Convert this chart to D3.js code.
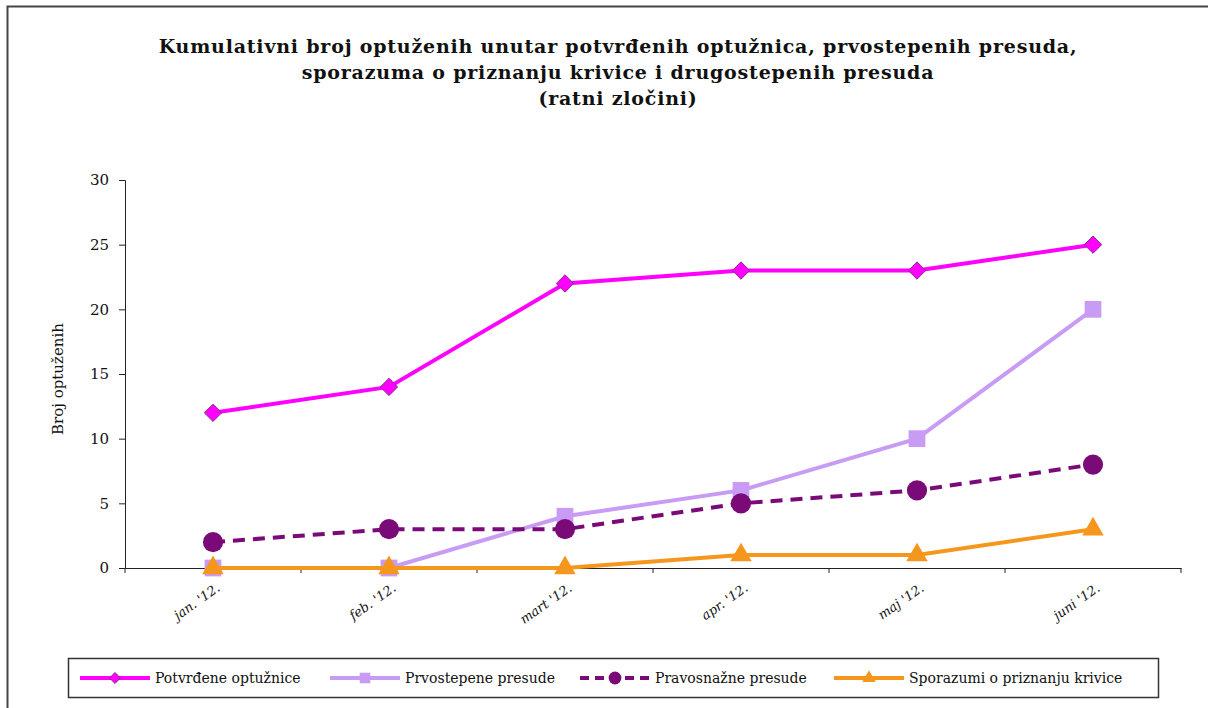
<!DOCTYPE html>
<html>
<head>
<meta charset="utf-8">
<script src="https://cdn.jsdelivr.net/npm/d3@7"></script>
<style>
  body { margin: 0; background: #fff; }
</style>
</head>
<body>
<svg id="chart" width="1208" height="708"></svg>
<script>
const months = ["jan. '12.", "feb. '12.", "mart '12.", "apr. '12.", "maj '12.", "juni '12."]
const potvrdene = [12, 14, 22, 23, 23, 25]
const prvostepene = [0, 0, 4, 6, 10, 20]
const pravosnazne = [2, 3, 3, 5, 6, 8]
const sporazumi = [0, 0, 0, 1, 1, 3]
const yTicks = [0, 5, 10, 15, 20, 25, 30]
const titleLines = [
  'Kumulativni broj optuženih unutar potvrđenih optužnica, prvostepenih presuda,',
  'sporazuma o priznanju krivice i drugostepenih presuda',
  '(ratni zločini)'
]

// rotated square, wider than d3's diamond
const diamond = {
  draw(ctx, size) {
    const r = Math.sqrt(size / 2)
    ctx.moveTo(0, -r); ctx.lineTo(r, 0); ctx.lineTo(0, r); ctx.lineTo(-r, 0); ctx.closePath()
  }
}

const series = [
  { name: 'Potvrđene optužnice', values: potvrdene, color: '#ff00ff', stroke: '#8a2a8a', shape: diamond, size: 150, dash: null },
  { name: 'Prvostepene presude', values: prvostepene, color: '#c89bf5', stroke: null, shape: d3.symbolSquare, size: 280, dash: null },
  { name: 'Pravosnažne presude', values: pravosnazne, color: '#7a0a78', stroke: null, shape: d3.symbolCircle, size: 320, dash: '12,8' },
  { name: 'Sporazumi o priznanju  krivice', values: sporazumi, color: '#f5971d', stroke: null, shape: d3.symbolTriangle, size: 200, dash: null }
]

const svg = d3.select('#chart')
const margin = { top: 180, left: 125, bottom: 568, right: 1181 }
const font = '"DejaVu Serif"'

// outer frame
svg.append('rect')
  .attr('x', 7.5).attr('y', 6.5)
  .attr('width', 1220).attr('height', 720)
  .attr('fill', 'none').attr('stroke', '#444').attr('stroke-width', 2)

// title
svg.append('g').selectAll('text')
  .data(titleLines)
  .join('text')
  .attr('x', 618)
  .attr('y', (d, i) => 53 + i * 26)
  .attr('text-anchor', 'middle')
  .style('font-family', font)
  .attr('font-size', 19)
  .attr('font-weight', 'bold')
  .attr('letter-spacing', 0.8)
  .attr('fill', '#111')
  .text(d => d)

const x = d3.scaleBand()
  .domain(d3.range(months.length))
  .range([margin.left, margin.right])

const y = d3.scaleLinear()
  .domain([0, 30])
  .range([margin.bottom, margin.top])

// y axis
const yAxis = svg.append('g')
  .attr('transform', `translate(${margin.left},0)`)
  .call(d3.axisLeft(y).tickValues(yTicks).tickSize(6).tickPadding(10))
yAxis.select('.domain').attr('stroke', '#222')
yAxis.selectAll('.tick line').attr('stroke', '#222')
yAxis.selectAll('text').attr('font-size', 15).style('font-family', font).attr('fill', '#111')

// x axis
const xAxis = svg.append('g')
  .attr('transform', `translate(0,${margin.bottom})`)
  .call(d3.axisBottom(x).tickSize(0).tickFormat(''))
xAxis.select('.domain').attr('stroke', '#222')
xAxis.selectAll('.tick').remove()
svg.append('g')
  .selectAll('line')
  .data(d3.range(months.length + 1))
  .join('line')
  .attr('x1', i => margin.left + i * x.step())
  .attr('x2', i => margin.left + i * x.step())
  .attr('y1', margin.bottom)
  .attr('y2', margin.bottom + 5)
  .attr('stroke', '#222')

svg.append('g')
  .selectAll('text')
  .data(months)
  .join('text')
  .attr('transform', (d, i) => `translate(${x(i) + x.bandwidth() / 2 + 8},${margin.bottom + 22}) rotate(-35)`)
  .attr('text-anchor', 'end')
  .style('font-family', font)
  .attr('font-size', 13)
  .attr('font-style', 'italic')
  .attr('fill', '#111')
  .text(d => d)

// y axis label
svg.append('text')
  .attr('transform', `translate(63,${(margin.top + margin.bottom) / 2 + 5}) rotate(-90)`)
  .attr('text-anchor', 'middle')
  .style('font-family', font)
  .attr('font-size', 15)
  .attr('fill', '#111')
  .text('Broj optuženih')

const cx = i => x(i) + x.bandwidth() / 2
const line = d3.line().x((d, i) => cx(i)).y(d => y(d))

series.forEach(s => {
  const g = svg.append('g')
  g.append('path')
    .datum(s.values)
    .attr('d', line)
    .attr('fill', 'none')
    .attr('stroke', s.color)
    .attr('stroke-width', 4)
    .attr('stroke-dasharray', s.dash)
  g.selectAll('path.m')
    .data(s.values)
    .join('path')
    .attr('class', 'm')
    .attr('transform', (d, i) => `translate(${cx(i)},${y(d)})`)
    .attr('d', d3.symbol().type(s.shape).size(s.size))
    .attr('fill', s.color)
    .attr('stroke', s.stroke)
    .attr('stroke-width', s.stroke ? 1 : 0)
})

// legend
const legend = svg.append('g')
legend.append('rect')
  .attr('x', 68.5).attr('y', 658.5)
  .attr('width', 1090).attr('height', 39)
  .attr('fill', '#fff').attr('stroke', '#333').attr('stroke-width', 1.5)

const legendX = [80, 330, 580, 834]
series.forEach((s, i) => {
  const lg = legend.append('g').attr('transform', `translate(${legendX[i]},678)`)
  lg.append('line')
    .attr('x1', 0).attr('x2', 70)
    .attr('stroke', s.color).attr('stroke-width', 4)
    .attr('stroke-dasharray', s.dash ? '9,6' : null)
  lg.append('path')
    .attr('transform', 'translate(35,0)')
    .attr('d', d3.symbol().type(s.shape).size(s.size * 0.4))
    .attr('fill', s.color)
    .attr('stroke', s.stroke)
  lg.append('text')
    .attr('x', 75).attr('y', 5)
    .style('font-family', font)
    .attr('font-size', 14)
    .attr('fill', '#111')
    .text(s.name)
})
</script>
</body>
</html>
